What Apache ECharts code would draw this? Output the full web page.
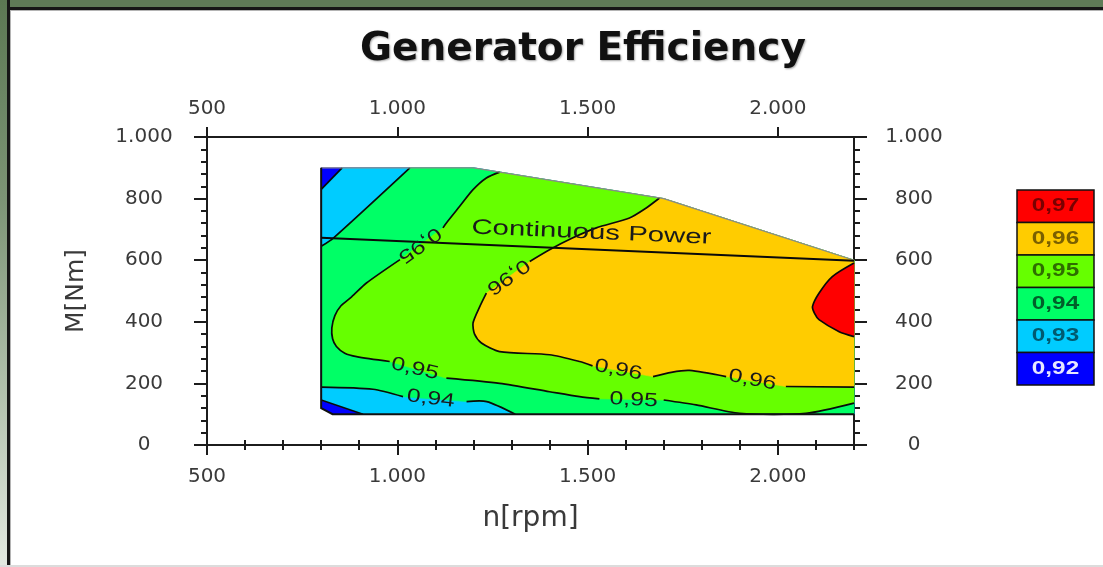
<!DOCTYPE html>
<html><head><meta charset="utf-8">
<script src="https://cdn.jsdelivr.net/npm/echarts@6/dist/echarts.min.js"></script>
<style>
html,body{margin:0;padding:0;background:#fff;}
#wrap{position:relative;width:1103px;height:567px;overflow:hidden;background:#fff;}
#ftop{position:absolute;left:0;top:0;width:1103px;height:7px;background:#5f7b57;border-bottom:3px solid #161616;}
#ftop2{position:absolute;left:0;top:10px;width:1103px;height:1px;background:#b4b4b4;}
#fleft{position:absolute;left:0;top:0;width:7px;height:567px;background:linear-gradient(#5c7853 0%,#7c9475 35%,#b3c2ae 70%,#e3e9e1 100%);border-right:3px solid #161616;}
#fleft2{position:absolute;left:10px;top:10px;width:1px;height:557px;background:#b4b4b4;}
#fbot{position:absolute;left:0;top:565px;width:1103px;height:2px;background:#dcdcdc;}
#chart{position:absolute;left:0;top:0;width:1103px;height:567px;}
</style></head>
<body><div id="wrap"><div id="ftop"></div><div id="ftop2"></div><div id="fleft"></div><div id="fleft2"></div><div id="fbot"></div><div id="chart"></div></div>
<script>
// ---------- data ----------
const rpmTicks = [500, 1000, 1500, 2000];
const nmTicks = [0, 200, 400, 600, 800, 1000];
const legendLabels = ['0,97', '0,96', '0,95', '0,94', '0,93', '0,92'];

// operating region boundary
const domainRpm = [800, 1200, 1700, 2200, 2200, 830, 800];
const domainNm  = [900, 900, 800, 600, 100, 100, 120];

// iso-efficiency lines (null = gap left for the label)
const iso092Rpm  = [855, 800];
const iso092Nm   = [900, 830];
const iso093aRpm = [1033, 832, 800];
const iso093aNm  = [900, 672, 645];
const iso093bRpm = [800, 910];
const iso093bNm  = [146, 100];
const iso094Rpm  = [800, 936, 1015, null, 1182, 1235, 1310];
const iso094Nm   = [188, 181, 157, null, 141, 141, 100];
const iso095Rpm  = [1269, 1234, 1199, 1164, 1129, 1120, null, 1007, 919, 880, 852, 836, 828, 830, 840, 862, 893, 980, null, 1129, 1269, 1400, 1479, 1531, null, 1700, 1785, 1899, 2074, 2200];
const iso095Nm   = [886, 867, 829, 775, 721, 705, null, 602, 526, 481, 452, 420, 380, 345, 320, 298, 287, 271, null, 217, 200, 173, 157, 150, null, 146, 130, 103, 103, 136];
const iso096Rpm  = [1689, 1650, 1610, 1523, 1460, 1400, 1348, null, 1234, 1217, 1199, 1203, 1221, 1269, 1400, 1479, 1513, null, 1672, 1720, 1768, 1864, null, 2021, 2200];
const iso096Nm   = [802, 766, 737, 705, 672, 634, 596, null, 493, 450, 396, 360, 331, 303, 293, 271, 257, null, 222, 236, 242, 222, null, 190, 188];
const iso097Rpm  = [2200, 2143, 2108, 2091, 2096, 2108, 2161, 2200];
const iso097Nm   = [591, 547, 493, 450, 428, 407, 368, 352];

// continuous power line
const cpRpm = [800, 2200];
const cpNm  = [673, 598];

// contour labels
const isoLabelText = ['0,95', '0,96', '0,95', '0,94', '0,95', '0,96', '0,96'];
const isoLabelRpm  = [1059, 1291, 1046, 1088, 1621, 1581, 1933];
const isoLabelNm   = [650, 547, 247, 150, 146, 244, 211];
const isoLabelAng  = [216, 216, -13, -7, -3, -11, -11];

// ---------- styles ----------
const fillColors = ['#0000ff', '#00ccff', '#00ff66', '#66ff00', '#ffcc00', '#ff0000'];
const legendColors = ['#ff0000', '#ffcc00', '#66ff00', '#00ff66', '#00ccff', '#0000ff'];
const legendTextColors = ['#7a0000', '#7a6000', '#2e6e00', '#00602a', '#005a70', '#e8e8ff'];

function pts(r, n) { return r.map((x, i) => [x, n[i]]); }
function solid(a) { return a.filter(p => p[0] != null); }
function rev(a) { return solid(a).slice().reverse(); }
function pieces(a) {
  const out = []; let cur = [];
  a.forEach(p => { if (p[0] == null) { if (cur.length) out.push(cur); cur = []; } else cur.push(p); });
  if (cur.length) out.push(cur);
  return out;
}
const D = pts(domainRpm, domainNm);
const L092 = pts(iso092Rpm, iso092Nm), L093a = pts(iso093aRpm, iso093aNm), L093b = pts(iso093bRpm, iso093bNm);
const L094 = pts(iso094Rpm, iso094Nm), L095 = pts(iso095Rpm, iso095Nm), L096 = pts(iso096Rpm, iso096Nm), L097 = pts(iso097Rpm, iso097Nm);

const regions = [
  D,
  [L092[0], D[1], D[2], D[3], D[4]].concat(rev(L093b), rev(L092)),
  [L093a[0], D[1], D[2], D[3], D[4]].concat(rev(L094), rev(L093a)),
  solid(L095).concat([D[3], D[2]]),
  solid(L096).concat([D[3], D[2]]),
  solid(L097)
];
const strokes = [].concat(pieces(L092), pieces(L093a), pieces(L093b), pieces(L094), pieces(L095), pieces(L096), pieces(L097));

const fmt = v => v >= 1000 ? Math.floor(v / 1000) + '.' + String(v % 1000).padStart(3, '0') : String(v);
const axCol = '#1c1c1c';
const lblStyle = { color: '#3a3a3a', fontFamily: 'DejaVu Sans', fontSize: 20 };

function xMajor(pos, withName) {
  const a = {
    type: 'value', position: pos, min: 500, max: 2200, interval: 500,
    axisLine: { show: true, onZero: false, lineStyle: { color: axCol, width: 2 } },
    axisTick: { show: true, length: 10, customValues: rpmTicks, lineStyle: { color: axCol, width: 2 } },
    axisLabel: Object.assign({ formatter: fmt, showMaxLabel: false, margin: pos === 'top' ? 18 : 22 }, lblStyle),
    splitLine: { show: false }
  };
  if (withName) {
    a.name = 'n[rpm]'; a.nameLocation = 'middle'; a.nameGap = 60;
    a.nameTextStyle = { fontFamily: 'DejaVu Sans', fontSize: 28, color: '#3a3a3a' };
  }
  return a;
}
function xMinor(pos) {
  return {
    type: 'value', position: pos, min: 500, max: 2200, interval: 100,
    axisLine: { show: false }, axisLabel: { show: false }, splitLine: { show: false },
    axisTick: { show: true, length: 5, lineStyle: { color: axCol, width: 2 } }
  };
}
function yAx(pos, margin, withName) {
  const a = {
    type: 'value', position: pos, min: 0, max: 1000, interval: 200,
    axisLine: { show: true, onZero: false, lineStyle: { color: axCol, width: 2 } },
    axisTick: { show: true, length: 13, lineStyle: { color: axCol, width: 2 } },
    minorTick: { show: true, splitNumber: 5, length: 6, lineStyle: { color: axCol, width: 2 } },
    axisLabel: Object.assign({ formatter: fmt, align: 'center', margin: margin }, lblStyle),
    splitLine: { show: false }, minorSplitLine: { show: false }
  };
  if (withName) {
    a.name = 'M[Nm]'; a.nameLocation = 'middle'; a.nameGap = 118; a.nameRotate = 90;
    a.nameTextStyle = { fontFamily: 'DejaVu Sans', fontSize: 25, color: '#3a3a3a' };
  }
  return a;
}

const chart = echarts.init(document.getElementById('chart'), null, { renderer: 'canvas' });
const toRad = d => d * Math.PI / 180;

const graphics = [];
legendLabels.forEach((lab, i) => {
  graphics.push({ type: 'rect', z: 10, shape: { x: 1017, y: 190 + i * 32.5, width: 77, height: 32.5 },
    style: { fill: legendColors[i], stroke: '#111', lineWidth: 1.5 } });
  graphics.push({ type: 'text', z: 11, x: 1055.5, y: 190 + i * 32.5 + 16.5, scaleX: 1.35,
    style: { text: lab, fill: legendTextColors[i], font: 'bold 18px "Liberation Sans"', align: 'center', verticalAlign: 'middle', textAlign: 'center', textVerticalAlign: 'middle' } });
});

chart.setOption({
  backgroundColor: 'transparent',
  animation: false,
  title: {
    text: 'Generator Efficiency', left: 355, top: 25,
    textStyle: { fontFamily: 'DejaVu Sans', fontWeight: 'bold', fontSize: 39, color: '#111',
      textShadowColor: 'rgba(0,0,0,0.35)', textShadowBlur: 2, textShadowOffsetX: 1, textShadowOffsetY: 1 }
  },
  grid: { left: 207, right: 249, top: 137, bottom: 122, containLabel: false, outerBoundsMode: 'none' },
  xAxis: [xMajor('bottom', true), xMinor('bottom'), xMajor('top', false), xMinor('top')],
  yAxis: [yAx('left', 63, true), yAx('right', 60, false)],
  graphic: graphics,
  series: [
    {
      type: 'custom', name: 'fill', xAxisIndex: 0, yAxisIndex: 0, silent: true, z: 1, clip: false,
      data: regions.map((r, i) => [i]),
      renderItem: (params, api) => {
        const poly = regions[params.dataIndex].map(p => api.coord(p));
        const c = fillColors[params.dataIndex];
        return { type: 'polygon', shape: { points: poly }, style: { fill: c, stroke: c, lineWidth: 0.6 } };
      }
    },
    {
      type: 'custom', name: 'iso', xAxisIndex: 0, yAxisIndex: 0, silent: true, z: 2, clip: false,
      data: strokes.map((s, i) => [i]),
      renderItem: (params, api) => {
        const line = strokes[params.dataIndex].map(p => api.coord(p));
        return { type: 'polyline', shape: { points: line, smooth: 0.25 }, style: { fill: null, stroke: '#0a0a0a', lineWidth: 1.7 } };
      }
    },
    {
      type: 'custom', name: 'outline', xAxisIndex: 0, yAxisIndex: 0, silent: true, z: 2, clip: false,
      data: [[0], [1]],
      renderItem: (params, api) => {
        if (params.dataIndex === 0) {
          return { type: 'polyline', shape: { points: [D[0], D[1], D[2], D[3]].map(p => api.coord(p)) }, style: { fill: null, stroke: '#8a8a8a', lineWidth: 1.2 } };
        }
        return { type: 'polyline', shape: { points: [D[4], D[5], D[6], D[0]].map(p => api.coord(p)) }, style: { fill: null, stroke: '#111', lineWidth: 2 } };
      }
    },
    {
      type: 'line', name: 'Continuous Power', xAxisIndex: 0, yAxisIndex: 0, z: 3, silent: true,
      symbol: 'none', data: pts(cpRpm, cpNm), lineStyle: { color: '#0a0a0a', width: 2 }
    },
    {
      type: 'custom', name: 'cpLabel', xAxisIndex: 0, yAxisIndex: 0, silent: true, z: 4, clip: false,
      data: [[0]],
      renderItem: (params, api) => {
        const a = api.coord([cpRpm[0], cpNm[0]]), b = api.coord([cpRpm[1], cpNm[1]]);
        const ang = Math.atan2(a[1] - b[1], b[0] - a[0]);
        const c = api.coord([1510, 689]);
        return { type: 'text', x: c[0], y: c[1], rotation: ang, scaleX: 1.4,
          style: { text: 'Continuous Power', fill: '#1a1a1a', font: '21px "Liberation Sans"', align: 'center', verticalAlign: 'middle', textAlign: 'center', textVerticalAlign: 'middle' } };
      }
    },
    {
      type: 'custom', name: 'isoLabels', xAxisIndex: 0, yAxisIndex: 0, silent: true, z: 4, clip: false,
      data: isoLabelText.map((t, i) => [i]),
      renderItem: (params, api) => {
        const i = params.dataIndex;
        const c = api.coord([isoLabelRpm[i], isoLabelNm[i]]);
        return { type: 'text', x: c[0], y: c[1], rotation: toRad(isoLabelAng[i]), scaleX: 1.3,
          style: { text: isoLabelText[i], fill: '#1a1a1a', font: '19px "Liberation Sans"', align: 'center', verticalAlign: 'middle', textAlign: 'center', textVerticalAlign: 'middle' } };
      }
    }
  ]
});
</script></body></html>
